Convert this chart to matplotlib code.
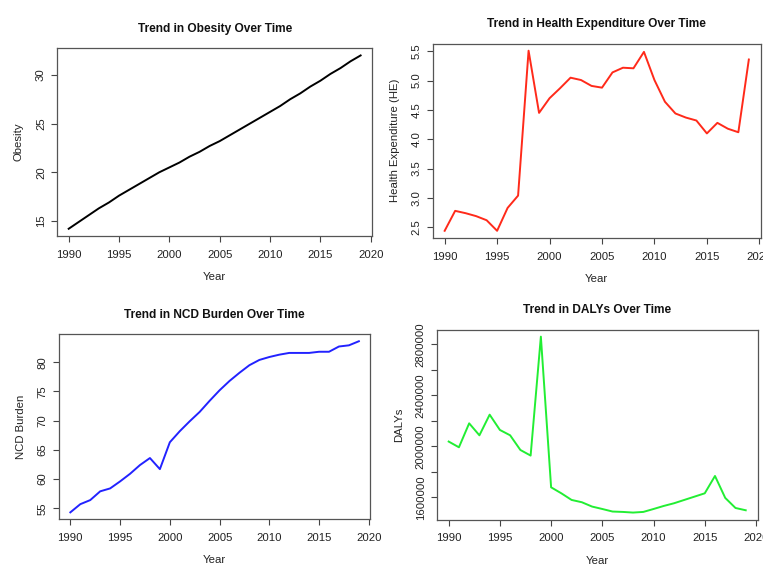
import numpy as np
import matplotlib.pyplot as plt

plt.rcParams['font.family'] = ['Liberation Sans', 'DejaVu Sans']

years = list(range(1990, 2020))

obesity = [14.2, 14.9, 15.6, 16.3, 16.9, 17.6, 18.2, 18.8, 19.4, 20.0,
           20.5, 21.0, 21.6, 22.1, 22.7, 23.2, 23.8, 24.4, 25.0, 25.6,
           26.2, 26.8, 27.5, 28.1, 28.8, 29.4, 30.1, 30.7, 31.4, 32.0]

health_exp = [2.44, 2.78, 2.74, 2.69, 2.62, 2.44, 2.83, 3.04, 5.51, 4.45,
              4.70, 4.87, 5.05, 5.01, 4.91, 4.88, 5.14, 5.22, 5.21, 5.49,
              5.01, 4.64, 4.44, 4.37, 4.32, 4.10, 4.28, 4.18, 4.12, 5.36]

ncd_burden = [54.3, 55.7, 56.4, 57.9, 58.4, 59.6, 60.9, 62.4, 63.6, 61.7,
              66.3, 68.2, 69.9, 71.5, 73.4, 75.2, 76.8, 78.2, 79.5, 80.4,
              80.9, 81.3, 81.6, 81.6, 81.6, 81.8, 81.8, 82.7, 82.9, 83.6]

dalys = [2037000, 1992000, 2180000, 2086000, 2248000, 2128000, 2086000, 1971000, 1927000, 2860000,
         1678000, 1631000, 1579000, 1561000, 1527000, 1508000, 1488000, 1485000, 1480000, 1485000,
         1508000, 1532000, 1553000, 1579000, 1605000, 1631000, 1767000, 1595000, 1516000, 1498000]

x_ticks = [1990, 1995, 2000, 2005, 2010, 2015, 2020]

W, H = 763, 564
fig = plt.figure(figsize=(W / 100, H / 100), dpi=100)

# (left, right, top, bottom) in pixels, title, ylabel, data, colour, yticks, shown labels
panels = [
    ((57, 372.3, 48.5, 235.7), 'Trend in Obesity Over Time', 'Obesity', obesity, 'black',
     [15, 20, 25, 30], None),
    ((432.5, 761, 43.5, 238), 'Trend in Health Expenditure Over Time', 'Health Expenditure (HE)',
     health_exp, '#ff2a1a', [2.5, 3.0, 3.5, 4.0, 4.5, 5.0, 5.5], None),
    ((58.8, 370.4, 334.4, 519.2), 'Trend in NCD Burden Over Time', 'NCD Burden', ncd_burden, '#2222ff',
     [55, 60, 65, 70, 75, 80], None),
    ((436.8, 757.6, 329.6, 519.6), 'Trend in DALYs Over Time', 'DALYs', dalys, '#22ee33',
     [1600000, 1800000, 2000000, 2200000, 2400000, 2600000, 2800000],
     [1600000, 2000000, 2400000, 2800000]),
]

for (l, r, t, b), title, ylab, vals, col, yt, shown in panels:
    ax = fig.add_axes([l / W, 1 - b / H, (r - l) / W, (b - t) / H])
    ax.plot(years, vals, color=col, lw=1.4)
    ax.margins(x=0.04, y=0.04)
    ax.set_xticks(x_ticks)
    ax.set_yticks(yt)
    if ylab == 'Health Expenditure (HE)':
        ax.set_yticklabels([f'{v:.1f}' for v in yt])
    elif shown is not None:
        ax.set_yticklabels([str(v) if v in shown else '' for v in yt])
    else:
        ax.set_yticklabels([str(v) for v in yt])
    for lab in ax.get_yticklabels():
        lab.set_rotation(90)
        lab.set_va('center')
    ax.tick_params(length=4, width=0.8, color='#444444', labelsize=8.2,
                   labelcolor='#222222', pad=4)
    ax.tick_params(axis='x', pad=6)
    for s in ax.spines.values():
        s.set_color('#555555')
        s.set_linewidth(0.9)
    ax.set_title(title, fontsize=8.6, fontweight='bold', pad=12, color='#111111')
    ax.set_xlabel('Year', fontsize=8.2, color='#222222')
    ax.xaxis.set_label_coords(0.5, -36 / (b - t))
    ax.set_ylabel(ylab, fontsize=8.2, color='#222222')
    ax.yaxis.set_label_coords(-33 / (r - l), 0.5)

fig.savefig('out.png', dpi=100)
